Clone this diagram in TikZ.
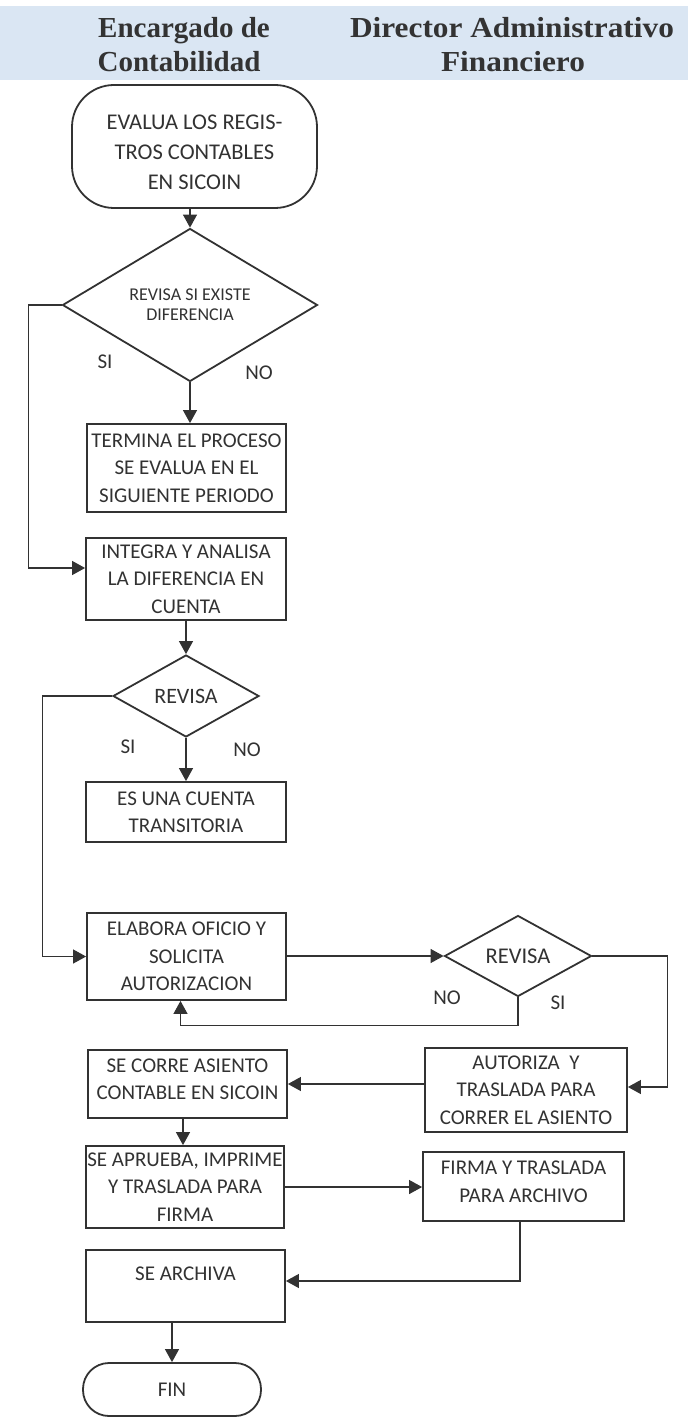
\documentclass[tikz,border=0pt]{standalone}
\usepackage{graphicx}
\usepackage{fontspec}
\setmainfont{Carlito}
\newfontfamily\headfont{Liberation Serif}
\usetikzlibrary{shapes.geometric,arrows.meta,calc}
\definecolor{ink}{RGB}{50,50,50}
\definecolor{band}{RGB}{218,230,243}
\begin{document}
\begin{tikzpicture}[x=1pt,y=-1pt,
  box/.style={draw=ink, line width=1.8pt, rectangle, inner sep=0pt, align=center,
    text=ink, font=\fontsize{21}{27.5}\selectfont},
  term/.style={box, rounded corners=42pt},
  decision/.style={draw=ink, line width=1.8pt, diamond, inner sep=0pt, align=center,
    text=ink},
  conn/.style={draw=ink, line width=1.1pt, -{Triangle[length=13pt,width=14pt]}},
  lbl/.style={text=ink, font=\fontsize{21}{25}\selectfont, inner sep=0pt},
  head/.style={font=\headfont\bfseries\fontsize{29}{34}\selectfont, text=black!80,
    inner sep=0pt, anchor=base}
]
\useasboundingbox (0,0) rectangle (688,1420);
\fill[band] (0,6) rectangle (688,80);

% lane headings
\node[head] (h1a) at (184,38) {Encargado de};
\node[head] (h1b) at (179,72) {Contabilidad};
\node[head] (h2a) at (512,38) {\scalebox{1.08}[1]{Director Administrativo}};
\node[head] (h2b) at (513,72) {\scalebox{1.08}[1]{Financiero}};

% process steps
\node[term, minimum width=245pt, minimum height=123pt] (start) at (194.5,146.5) {};
\node[align=center, inner sep=0pt, text=ink, font=\fontsize{22.5}{30}\selectfont]
  (starttxt) at ([yshift=-6pt]start.center)
  {EVALUA LOS REGIS-\\TROS CONTABLES\\EN SICOIN};
\node[decision, minimum width=255pt, minimum height=114pt,
  font=\fontsize{18}{20}\selectfont] (d1) at (190,305)
  {REVISA SI EXISTE\\DIFERENCIA};
\node[box, minimum width=199pt, minimum height=88pt] (termina) at (186.5,468)
  {TERMINA EL PROCESO\\SE EVALUA EN EL\\SIGUIENTE PERIODO};
\node[box, minimum width=200pt, minimum height=82pt] (integra) at (186,579)
  {INTEGRA Y ANALISA\\LA DIFERENCIA EN\\CUENTA};
\node[decision, minimum width=146pt, minimum height=82pt,
  font=\fontsize{22}{25}\selectfont] (d2) at (186,696) {REVISA};
\node[box, minimum width=200pt, minimum height=60pt] (transit) at (186,812)
  {ES UNA CUENTA\\TRANSITORIA};
\node[box, minimum width=199pt, minimum height=87pt] (elabora) at (186.5,956.5)
  {ELABORA OFICIO Y\\SOLICITA\\AUTORIZACION};
\node[decision, minimum width=147pt, minimum height=81pt,
  font=\fontsize{22.5}{25}\selectfont] (d3) at (518,956) {REVISA};
\node[box, minimum width=202pt, minimum height=84pt] (autoriza) at (526,1090)
  {AUTORIZA\ \ Y\\TRASLADA PARA\\CORRER EL ASIENTO};
\node[box, minimum width=199pt, minimum height=68pt] (secorre) at (187.5,1084)
  {SE CORRE ASIENTO\\CONTABLE EN SICOIN\\[-17.5pt]\mbox{}};
\node[box, minimum width=198pt, minimum height=82pt] (aprueba) at (185,1187)
  {SE APRUEBA, IMPRIME\\Y TRASLADA PARA\\FIRMA};
\node[box, minimum width=201pt, minimum height=69pt] (firma) at (523.5,1186.5)
  {FIRMA Y TRASLADA\\PARA ARCHIVO\\[-17.5pt]\mbox{}};
\node[box, minimum width=199pt, minimum height=72pt] (archiva) at (185.5,1286)
  {SE ARCHIVA\\[-3pt]\mbox{}};
\node[term, rounded corners=26pt, minimum width=178pt, minimum height=53pt] (fin)
  at (172,1389.5) {FIN};

% branch labels
\node[lbl] (si1) at (105,362) {SI};
\node[lbl] (no1) at (259,373) {NO};
\node[lbl] (si2) at (128,747) {SI};
\node[lbl] (no2) at (247,750) {NO};
\node[lbl] (no3) at (447,998) {NO};
\node[lbl] (si3) at (558,1003) {SI};

% connectors
\draw[conn] (d1.north |- start.south) -- (d1.north);
\draw[conn] (d1.south) -- (d1.south |- termina.north);
\draw[conn] (d1.west) -- ++(-33,0) |- ([yshift=11pt]integra.west);
\draw[conn] (integra.south) -- (d2.north);
\draw[conn] (d2.west) -- ++(-70,0) |- (elabora.west);
\draw[conn] (d2.south) -- (transit.north);
\draw[conn] (elabora.east |- d3.west) -- (d3.west);
\draw[conn] (d3.south) -- ++(0,28) -| ([xshift=-6pt]elabora.south);
\draw[conn] (d3.east) -- ++(75,0) |- ([yshift=3pt]autoriza.east);
\draw[conn] (autoriza.west |- secorre.east) -- (secorre.east);
\draw[conn] ([xshift=-4.5pt]secorre.south) -- ([xshift=-4.5pt]secorre.south |- aprueba.north);
\draw[conn] (aprueba.east) -- (aprueba.east -| firma.west);
\draw[conn] ([xshift=-3.5pt]firma.south) |- ([yshift=5pt]archiva.east);
\draw[conn] (archiva.south -| fin.north) -- (fin.north);
\end{tikzpicture}
\end{document}
